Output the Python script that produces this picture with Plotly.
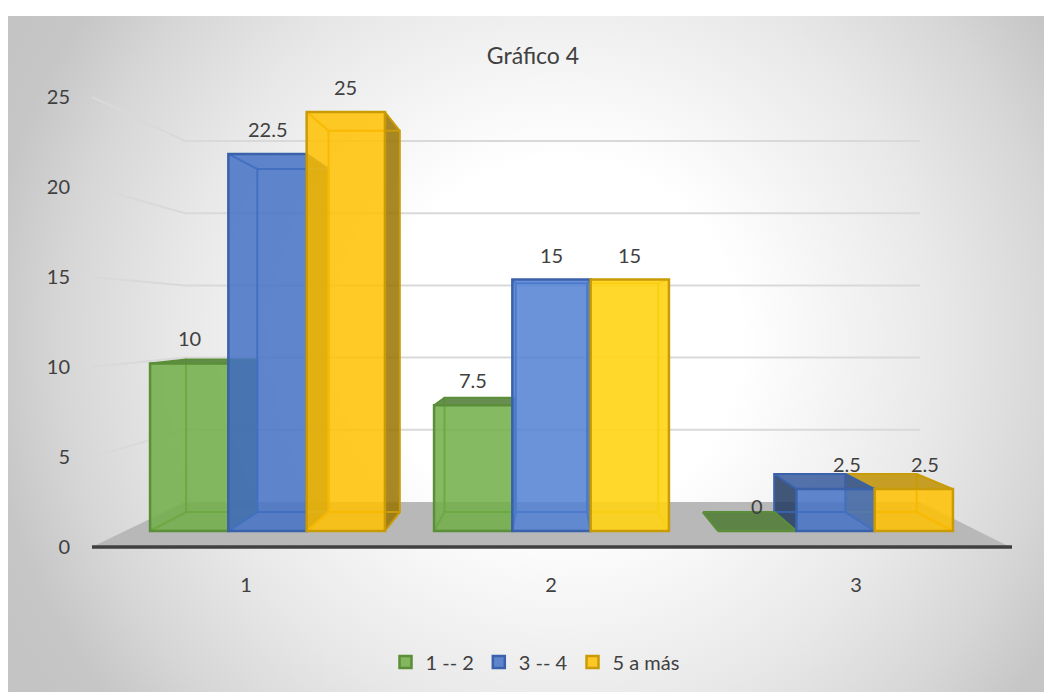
import base64
import plotly.graph_objects as go

categories = [1, 2, 3]
series_names = ["1 -- 2", "3 -- 4", "5 a más"]
values_a = [10, 7.5, 0]
values_b = [22.5, 15, 2.5]
values_c = [25, 15, 2.5]
y_ticks = [0, 5, 10, 15, 20, 25]
chart_title = "Gráfico 4"

W, H = 1044, 693
FONT = "Lato"
TXT = "#404040"

# calibration between page pixels and the two data axes
CAT1_PX, CAT_STEP = 267.5, 284.0
ZERO_PX, UNIT_PX = 531.0, 16.76
def to_x(px): return 1 + (px - CAT1_PX) / CAT_STEP
def to_y(py): return (ZERO_PX - py) / UNIT_PX

# perspective: back of a bar = front moved 9% towards a vanishing point
VX, VY = to_x(550), to_y(321)
DEPTH = 0.09
def back(x, y): return x + DEPTH * (VX - x), y + DEPTH * (VY - y)

BAR_W = 78.3 / CAT_STEP
styles = [
    dict(fill=["rgba(112,173,71,0.85)"] * 3, edge="#5a8e39",
         side="rgba(67,104,43,0.85)", top="rgba(78,121,50,0.85)"),
    dict(fill=["rgba(68,114,196,0.85)", "rgba(80,128,212,0.85)", "rgba(68,114,196,0.85)"], edge="#3a62aa",
         side="rgba(34,57,98,0.85)", top="rgba(54,91,157,0.85)"),
    dict(fill=["rgba(255,192,0,0.85)", "rgba(255,212,20,0.9)", "rgba(255,192,0,0.85)"], edge="#c99b06",
         side="rgba(153,115,0,0.85)", top="rgba(191,144,0,0.85)"),
]
all_values = [values_a, values_b, values_c]

CX, CY = 560 - 8, 340 - 16
R = 680.0
stops = [(0, "#ffffff"), (180, "#ffffff"), (382, "#e8e8e8"), (500, "#d6d6d6"), (577, "#c6c6c6"), (680, "#c2c2c2")]
stop_xml = "".join(f'<stop offset="{r / R:.4f}" stop-color="{c}"/>' for r, c in stops)
svg = f'''<svg xmlns="http://www.w3.org/2000/svg" width="{W-8}" height="{H-17}">
<defs><radialGradient id="g" gradientUnits="userSpaceOnUse" cx="{CX}" cy="{CY}" r="{R}">{stop_xml}</radialGradient></defs>
<rect width="100%" height="100%" fill="url(#g)"/></svg>'''
bg = "data:image/svg+xml;base64," + base64.b64encode(svg.encode()).decode()

fig = go.Figure()

# floor
fx = [to_x(p) for p in (92, 185, 920, 1010)]
fy = [to_y(p) for p in (547, 502, 502, 547)]
fig.add_trace(go.Scatter(x=fx, y=fy, fill="toself", mode="none", fillcolor="#b8b8b8",
                         showlegend=False, hoverinfo="skip", zorder=0))

# wall gridlines, one polyline per tick
gx, gy = [], []
for t in y_ticks[1:]:
    gx += [to_x(92), to_x(185), to_x(920), None]
    gy += [to_y(547 - 18 * t), to_y(502 - 14.44 * t), to_y(502 - 14.44 * t), None]
fig.add_trace(go.Scatter(x=gx, y=gy, mode="lines", line=dict(color="#d9d9d9", width=2),
                         showlegend=False, hoverinfo="skip", zorder=0))


def add_faces(series_index, z, wanted_reversed):
    """Outer faces are filled; faces inside the front only get their edges."""
    vals, st = all_values[series_index], styles[series_index]
    sx, sy, tx, ty, ex, ey = [], [], [], [], [], []
    for c, v in zip(categories, vals):
        x0 = c + (series_index - 1.5) * BAR_W
        x1 = x0 + BAR_W
        if (x0 > VX) != wanted_reversed:
            continue
        a = back(x0, 0); b = back(x1, 0); d = back(x0, v); e = back(x1, v)
        if x0 > VX:   # left face seen from outside
            sx += [x0, a[0], d[0], x0, x0, None]
            sy += [0, a[1], d[1], v, 0, None]
        if x1 < VX:   # right face seen from outside
            sx += [x1, b[0], e[0], x1, x1, None]
            sy += [0, b[1], e[1], v, 0, None]
        if v < VY:    # top seen from above
            tx += [x0, x1, e[0], d[0], x0, None]
            ty += [v, v, e[1], d[1], v, None]
        ex += [a[0], b[0], e[0], d[0], a[0], None, x0, a[0], None, x1, b[0], None,
               x0, d[0], None, x1, e[0], None]
        ey += [a[1], b[1], e[1], d[1], a[1], None, 0, a[1], None, 0, b[1], None,
               v, d[1], None, v, e[1], None]
    if sx:
        fig.add_trace(go.Scatter(x=sx, y=sy, fill="toself", mode="none", fillcolor=st["side"],
                                 showlegend=False, hoverinfo="skip", zorder=z))
    if tx:
        fig.add_trace(go.Scatter(x=tx, y=ty, fill="toself", mode="none", fillcolor=st["top"],
                                 showlegend=False, hoverinfo="skip", zorder=z))
    if ex:
        fig.add_trace(go.Scatter(x=ex, y=ey, mode="lines", line=dict(color=st["edge"], width=2),
                                 showlegend=False, hoverinfo="skip", zorder=z))


# right of the vanishing point bars are painted right to left
z = 1
for s in (2, 1, 0):
    add_faces(s, z, True)
    z += 1

for s, (name, vals, st) in enumerate(zip(series_names, all_values, styles)):
    add_faces(s, z, False)
    fig.add_trace(go.Bar(x=categories, y=vals, name=name, zorder=z + 1,
                         marker=dict(color=st["fill"], line=dict(color=st["edge"], width=2.5))))
    z += 2
    for c, v in zip(categories, vals):
        xs = 11 if (c == 3 and v > 0) else 0
        fig.add_annotation(x=c + (s - 1) * BAR_W, y=v, text=str(v), showarrow=False,
                           xshift=xs, yshift=25, yanchor="middle",
                           font=dict(family=FONT, size=20, color=TXT))

# category axis line
fig.add_trace(go.Scatter(x=[to_x(92), to_x(1012)], y=[to_y(547), to_y(547)], mode="lines",
                         line=dict(color="#404040", width=3.5), showlegend=False,
                         hoverinfo="skip", zorder=z))

# carrier for the tick-label axes
fig.add_trace(go.Scatter(x=categories, y=[0, 0, 0], xaxis="x2", yaxis="y2", mode="markers",
                         marker=dict(opacity=0), showlegend=False, hoverinfo="skip"))

fig.update_layout(
    width=W, height=H, autosize=False,
    margin=dict(l=0, r=0, t=0, b=0),
    paper_bgcolor="white", plot_bgcolor="rgba(0,0,0,0)",
    barmode="group", bargap=1 - 3 * BAR_W, bargroupgap=0,
    title=dict(text=chart_title, x=533 / W, y=1 - 56 / H, xanchor="center", yanchor="middle",
               font=dict(family=FONT, size=23, color=TXT)),
    xaxis=dict(range=[to_x(0), to_x(W)], visible=False, domain=[0, 1]),
    yaxis=dict(range=[to_y(H), to_y(0)], visible=False, domain=[0, 1]),
    xaxis2=dict(overlaying="x", range=[1 - 246 / 305, 1 + (W - 246) / 305], tickvals=categories,
                anchor="free", position=1 - 571 / H, side="bottom", showgrid=False, zeroline=False,
                showline=False, ticks="", tickfont=dict(family=FONT, size=20, color=TXT)),
    yaxis2=dict(overlaying="y", range=[(547 - H) / 18, 547 / 18], tickvals=y_ticks,
                anchor="free", position=70 / W, side="left", showgrid=False, zeroline=False,
                showline=False, ticks="", tickfont=dict(family=FONT, size=20, color=TXT)),
    legend=dict(orientation="h", x=535 / W, xanchor="center", y=1 - 662 / H, yanchor="middle",
                font=dict(family=FONT, size=20, color=TXT), bgcolor="rgba(0,0,0,0)",
                itemwidth=30, traceorder="normal"),
    images=[dict(source=bg, xref="paper", yref="paper", x=8 / W, y=1 - 16 / H,
                 sizex=(W - 8) / W, sizey=(H - 17) / H, sizing="stretch",
                 xanchor="left", yanchor="top", layer="below")],
    showlegend=True,
)

fig.write_html("out.html", config={"displayModeBar": False},
               post_script="document.body.style.margin='0';document.body.style.overflow='hidden';")
